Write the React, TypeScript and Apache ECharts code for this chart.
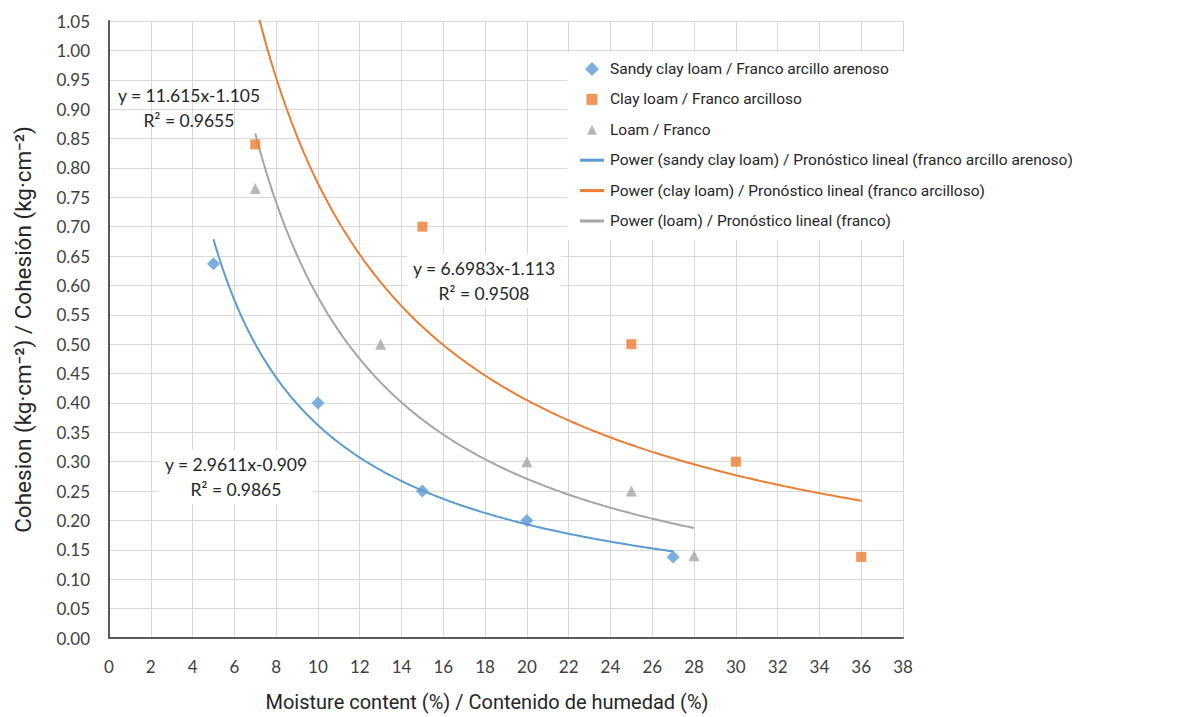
import React, { useEffect, useRef } from "react";
import * as echarts from "echarts";

const sandyX = [5, 10, 15, 20, 27];
const sandyY = [0.637, 0.4, 0.25, 0.2, 0.138];
const clayX = [7, 15, 25, 30, 36];
const clayY = [0.84, 0.7, 0.5, 0.3, 0.138];
const loamX = [7, 13, 20, 25, 28];
const loamY = [0.765, 0.5, 0.3, 0.25, 0.14];

const seriesNames = [
  "Sandy clay loam / Franco arcillo arenoso",
  "Clay loam / Franco arcilloso",
  "Loam / Franco",
  "Power (sandy clay loam) / Pronóstico lineal (franco arcillo arenoso)",
  "Power (clay loam) / Pronóstico lineal (franco arcilloso)",
  "Power (loam) / Pronóstico lineal (franco)",
];
const eqLabels = [
  "y = 11.615x-1.105\nR² = 0.9655",
  "y = 6.6983x-1.113\nR² = 0.9508",
  "y = 2.9611x-0.909\nR² = 0.9865",
];

const BLUE = "#5B9BD5";
const ORANGE = "#ED7D31";
const GRAY = "#A5A5A5";

// power regression (least squares in log space) of the scatter data: Excel "Power" trendline
function powerTrend(xs: number[], ys: number[]) {
  const lx = xs.map(Math.log);
  const ly = ys.map(Math.log);
  const n = xs.length;
  const mx = lx.reduce((a, b) => a + b, 0) / n;
  const my = ly.reduce((a, b) => a + b, 0) / n;
  let sxy = 0, sxx = 0;
  for (let i = 0; i < n; i++) {
    sxy += (lx[i] - mx) * (ly[i] - my);
    sxx += (lx[i] - mx) * (lx[i] - mx);
  }
  const b = sxy / sxx;
  const a = Math.exp(my - b * mx);
  const x0 = Math.min(...xs);
  const x1 = Math.max(...xs);
  const pts: number[][] = [];
  const steps = 200;
  for (let i = 0; i <= steps; i++) {
    const x = x0 + ((x1 - x0) * i) / steps;
    pts.push([x, a * Math.pow(x, b)]);
  }
  return pts;
}

const zip = (xs: number[], ys: number[]) => xs.map((x, i) => [x, ys[i]]);

const NARROW = '"Liberation Sans Narrow", "Arial Narrow", "Roboto", sans-serif';
const TICKFONT = "Lato, Carlito, sans-serif";

export default function App() {
  const ref = useRef<HTMLDivElement>(null);
  useEffect(() => {
    if (!ref.current) return;
    const chart = echarts.init(ref.current, null, { renderer: "svg" });
    chart.setOption({
      animation: false,
      backgroundColor: "#ffffff",
      grid: { left: 109, right: 281, top: 21, bottom: 75, containLabel: false },
      xAxis: {
        type: "value",
        min: 0,
        max: 38,
        interval: 2,
        name: "Moisture content (%) / Contenido de humedad (%)",
        nameLocation: "middle",
        nameGap: 54,
        nameTextStyle: { fontFamily: NARROW, fontSize: 20, color: "#262626", padding: [0, 38, 0, 0] },
        axisLine: { show: true, lineStyle: { color: "#595959", width: 2 } },
        axisTick: { show: false },
        axisLabel: { fontFamily: TICKFONT, fontSize: 17, color: "#404040", margin: 20 },
        splitLine: { show: true, lineStyle: { color: "#D9D9D9", width: 1 } },
      },
      yAxis: {
        type: "value",
        min: 0,
        max: 1.05,
        interval: 0.05,
        name: "Cohesion (kg·cm⁻²) / Cohesión (kg·cm⁻²)",
        nameLocation: "middle",
        nameGap: 75,
        nameRotate: 90,
        nameTextStyle: { fontFamily: NARROW, fontSize: 22.5, color: "#262626" },
        axisLine: { show: true, lineStyle: { color: "#595959", width: 2 } },
        axisTick: { show: false },
        axisLabel: {
          fontFamily: TICKFONT,
          fontSize: 17,
          color: "#404040",
          margin: 19,
          formatter: (v: number) => v.toFixed(2),
        },
        splitLine: { show: true, lineStyle: { color: "#D9D9D9", width: 1 } },
      },
      legend: {
        orient: "vertical",
        left: 567,
        top: 52,
        padding: [6, 40, 8, 12],
        backgroundColor: "#ffffff",
        itemWidth: 26,
        itemHeight: 14,
        itemGap: 8.4,
        textStyle: { fontFamily: NARROW, fontSize: 15.5, lineHeight: 22, color: "#262626" },
        data: [
          { name: seriesNames[0], icon: "path://M7,0L14,7L7,14L0,7Z" },
          { name: seriesNames[1], icon: "path://M0,0M14,14M1.5,1.5h11v11h-11z" },
          { name: seriesNames[2], icon: "path://M0,0M14,14M7,2L12,12L2,12Z" },
          { name: seriesNames[3], icon: "path://M0,0M26,14M1,5.5h24v3h-24z" },
          { name: seriesNames[4], icon: "path://M0,0M26,14M1,5.5h24v3h-24z" },
          { name: seriesNames[5], icon: "path://M0,0M26,14M1,5.5h24v3h-24z" },
        ],
      },
      series: [
        {
          name: seriesNames[0],
          type: "scatter",
          symbol: "diamond",
          symbolSize: 13,
          itemStyle: { color: BLUE },
          data: zip(sandyX, sandyY),
          z: 3,
        },
        {
          name: seriesNames[1],
          type: "scatter",
          symbol: "rect",
          symbolSize: 10,
          itemStyle: { color: ORANGE },
          data: zip(clayX, clayY),
          z: 3,
        },
        {
          name: seriesNames[2],
          type: "scatter",
          symbol: "triangle",
          symbolSize: 11,
          itemStyle: { color: GRAY },
          data: zip(loamX, loamY),
          z: 3,
        },
        {
          name: seriesNames[3],
          type: "line",
          showSymbol: false,
          symbol: "none",
          clip: true,
          lineStyle: { color: BLUE, width: 2 },
          itemStyle: { color: BLUE },
          data: powerTrend(sandyX, sandyY),
          z: 2,
        },
        {
          name: seriesNames[4],
          type: "line",
          showSymbol: false,
          symbol: "none",
          clip: true,
          lineStyle: { color: ORANGE, width: 2 },
          itemStyle: { color: ORANGE },
          data: powerTrend(clayX, clayY),
          z: 2,
        },
        {
          name: seriesNames[5],
          type: "line",
          showSymbol: false,
          symbol: "none",
          clip: true,
          lineStyle: { color: GRAY, width: 2 },
          itemStyle: { color: GRAY },
          data: powerTrend(loamX, loamY),
          z: 2,
        },
      ],
      graphic: [
        {
          type: "text",
          x: 189,
          y: 108,
          z: 10,
          style: {
            text: eqLabels[0],
            fontFamily: TICKFONT,
            fontSize: 17.5,
            lineHeight: 25,
            fill: "#262626",
            align: "center",
            verticalAlign: "middle",
          },
        },
        {
          type: "text",
          x: 484,
          y: 281,
          z: 10,
          style: {
            text: eqLabels[1],
            fontFamily: TICKFONT,
            fontSize: 17.5,
            lineHeight: 25,
            fill: "#262626",
            align: "center",
            verticalAlign: "middle",
            backgroundColor: "#ffffff",
            padding: [2, 6],
          },
        },
        {
          type: "text",
          x: 236,
          y: 477,
          z: 10,
          style: {
            text: eqLabels[2],
            fontFamily: TICKFONT,
            fontSize: 17.5,
            lineHeight: 25,
            fill: "#262626",
            align: "center",
            verticalAlign: "middle",
            backgroundColor: "#ffffff",
            padding: [2, 6],
          },
        },
      ],
    });
    return () => chart.dispose();
  }, []);
  return <div ref={ref} style={{ width: 1184, height: 717, position: "absolute", left: 0, top: 0 }} />;
}
